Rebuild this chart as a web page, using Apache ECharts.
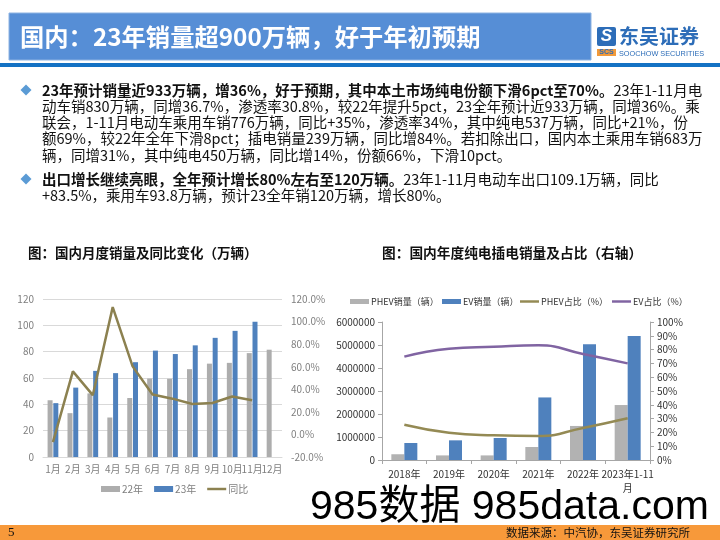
<!DOCTYPE html>
<html><head><meta charset="utf-8">
<script src="https://cdn.jsdelivr.net/npm/echarts@6/dist/echarts.min.js"></script>
<style>html,body{margin:0;padding:0;background:#fff}#c{width:720px;height:540px}</style>
</head><body><div id="c"></div>
<script>
// ---- Left chart data (万辆, %) ----
const months = ['1月','2月','3月','4月','5月','6月','7月','8月','9月','10月','11月','12月'];
const sales22 = [43.1, 33.3, 48.3, 30.0, 44.8, 59.6, 59.4, 66.7, 70.9, 71.5, 78.9, 81.5];
const sales23 = [40.9, 52.7, 65.4, 63.7, 72.0, 80.8, 78.2, 84.8, 90.5, 95.8, 102.8];
const yoy = [-6.8, 55.9, 34.8, 112.8, 60.3, 35.3, 31.7, 27.0, 27.8, 33.6, 30.3];
const leftAxisTicks = [0, 120, 20];
const rightAxisTicks = [-20, 120, 20];
// ---- Right chart data ----
const years = ['2018年','2019年','2020年','2021年','2022年','2023年1-11月'];
const phevSales = [250000, 200000, 200000, 565000, 1480000, 2390000];
const evSales = [740000, 855000, 957000, 2720000, 5030000, 5390000];
const phevShare = [25.6, 19.8, 17.9, 17.4, 23.2, 30.2];
const evShare = [74.9, 80.7, 82.1, 83.1, 76.8, 70.0];
// ---- Texts ----
const headerTitle = '国内：23年销量超900万辆，好于年初预期';
const leftTitle = '图：国内月度销量及同比变化（万辆）';
const rightTitle = '图：国内年度纯电插电销量及占比（右轴）';
const bulletLines = [
  [['b','23年预计销量近933万辆，增36%，好于预期，其中本土市场纯电份额下滑6pct至70%。'],['n','23年1-11月电']],
  [['n','动车销830万辆，同增36.7%，渗透率30.8%，较22年提升5pct，23全年预计近933万辆，同增36%。乘']],
  [['n','联会，1-11月电动车乘用车销776万辆，同比+35%，渗透率34%，其中纯电537万辆，同比+21%，份']],
  [['n','额69%，较22年全年下滑8pct；插电销量239万辆，同比增84%。若扣除出口，国内本土乘用车销683万']],
  [['n','辆，同增31%，其中纯电450万辆，同比增14%，份额66%，下滑10pct。']],
  [['b','出口增长继续亮眼，全年预计增长80%左右至120万辆。'],['n','23年1-11月电动车出口109.1万辆，同比']],
  [['n','+83.5%，乘用车93.8万辆，预计23全年销120万辆，增长80%。']]
];
const lineY = [90, 106.3, 122.6, 138.8, 155, 179, 195.3];
const bulletYs = [90, 179];
const sourceText = '数据来源：中汽协，东吴证券研究所';
const pageNo = '5';
const watermark = '985数据 985data.com';

const FONT = '"Noto Sans CJK SC", "Noto Sans", sans-serif';
const LINE_ICON = 'path://M0,0h20v2.6h-20z';
const chart = echarts.init(document.getElementById('c'), null, {renderer:'canvas'});

const graphics = [
  {type:'rect', shape:{x:9,y:13,width:582,height:47}, style:{fill:'#568ED6', stroke:'#8DB3E2', lineWidth:1}},
  {type:'text', x:20, y:37, style:{text:headerTitle, fill:'#fff', fontSize:24.3, fontWeight:'bold', fontFamily:FONT, verticalAlign:'middle'}},
  {type:'rect', shape:{x:0,y:63,width:720,height:4}, style:{fill:'#1472C4'}},
  // logo
  {type:'rect', shape:{x:597,y:27,width:19,height:19,r:2}, style:{fill:'#2D6DB8'}},
  {type:'text', x:606.5, y:36.5, style:{text:'S', fill:'#fff', fontSize:17, fontWeight:'bold', fontStyle:'italic', fontFamily:'"Liberation Sans", sans-serif', align:'center', verticalAlign:'middle'}},
  {type:'rect', shape:{x:597,y:49,width:19,height:7}, style:{fill:'#F29A3A'}},
  {type:'text', x:606.5, y:52.5, style:{text:'SCS', fill:'#2D6DB8', fontSize:7, fontWeight:'bold', fontFamily:'"Liberation Sans", sans-serif', align:'center', verticalAlign:'middle'}},
  {type:'text', x:619, y:36.5, style:{text:'东吴证券', fill:'#2D6DB8', fontSize:20, fontWeight:'bold', fontFamily:FONT, verticalAlign:'middle'}},
  {type:'text', x:619, y:53.5, style:{text:'SOOCHOW SECURITIES', fill:'#2D6DB8', fontSize:7.3, fontFamily:'"Liberation Sans Narrow","Liberation Sans", sans-serif', verticalAlign:'middle'}},
  // chart titles
  {type:'text', x:28, y:253, style:{text:leftTitle, fill:'#111', fontSize:13.5, fontWeight:'bold', fontFamily:FONT, verticalAlign:'middle'}},
  {type:'text', x:382, y:253, style:{text:rightTitle, fill:'#111', fontSize:13.7, fontWeight:'bold', fontFamily:FONT, verticalAlign:'middle'}},
  // footer
  {type:'rect', shape:{x:0,y:525,width:720,height:15}, style:{fill:'#F7993A'}},
  {type:'text', x:8, y:533, style:{text:pageNo, fill:'#111', fontSize:13, fontFamily:'"Liberation Serif", serif', verticalAlign:'middle'}},
  {type:'text', x:690, y:533, style:{text:sourceText, fill:'#111', fontSize:11.5, fontFamily:FONT, align:'right', verticalAlign:'middle'}},
  {type:'text', x:310, y:508, z:100, style:{text:watermark, fill:'#000', fontSize:41, fontFamily:'"Liberation Sans", "Noto Sans CJK SC", sans-serif', verticalAlign:'middle'}}
];
bulletYs.forEach(y => {
  graphics.push({type:'polygon', shape:{points:[[26,y-5.5],[31.5,y],[26,y+5.5],[20.5,y]]}, style:{fill:'#5B9BD5'}});
});
bulletLines.forEach((parts, i) => {
  graphics.push({type:'text', x:42, y:lineY[i], style:{
    text: parts.map(p => '{' + p[0] + '|' + p[1] + '}').join(''),
    verticalAlign:'middle',
    rich:{
      b:{fontSize:14.5, fontWeight:'bold', fill:'#111', fontFamily:FONT},
      n:{fontSize:14.5, fontWeight:'normal', fill:'#111', fontFamily:FONT}
    }
  }});
});

const grayLbl = {color:'#7F7F7F', fontSize:10, fontFamily:FONT};
const darkLbl = {color:'#333', fontSize:10, fontFamily:FONT};

function rLegend(left, name, icon) {
  return {left:left, top:297, padding:0, itemWidth:19, itemHeight:5, symbolKeepAspect:true,
    textStyle:{color:'#333', fontSize:9, fontFamily:FONT, padding:[0,0,0,-3]}, data:[{name:name, icon:icon}]};
}

chart.setOption({
  animation:false,
  textStyle:{fontFamily:FONT},
  graphic: graphics,
  legend:[
    {left:101, top:484, padding:0, itemWidth:19, itemHeight:6, itemGap:11, symbolKeepAspect:true, textStyle:{color:'#7F7F7F', fontSize:10, fontFamily:FONT, padding:[0,0,0,-3]},
     data:[{name:'22年', icon:'rect'},{name:'23年', icon:'rect'},{name:'同比', icon:LINE_ICON}]},
    rLegend(350, 'PHEV销量（辆）', 'rect'),
    rLegend(442, 'EV销量（辆）', 'rect'),
    rLegend(520, 'PHEV占比（%）', LINE_ICON),
    rLegend(612, 'EV占比（%）', LINE_ICON)
  ],
  grid:[
    {left:43, right:438, top:299, bottom:83},
    {left:382, right:70, top:322, bottom:80}
  ],
  xAxis:[
    {type:'category', gridIndex:0, data:months, axisLine:{lineStyle:{color:'#D9D9D9'}}, axisTick:{show:false}, axisLabel:Object.assign({margin:7, interval:0}, grayLbl)},
    {type:'category', gridIndex:1, data:years, axisLine:{lineStyle:{color:'#A6A6A6'}}, axisTick:{show:true, length:4, lineStyle:{color:'#A6A6A6'}},
     axisLabel:Object.assign({margin:7, lineHeight:14, interval:0, formatter:v => v.replace('1-11月','1-11\n月')}, darkLbl)}
  ],
  yAxis:[
    {type:'value', gridIndex:0, min:leftAxisTicks[0], max:leftAxisTicks[1], interval:leftAxisTicks[2], axisLine:{show:false}, axisTick:{show:false},
     splitLine:{lineStyle:{color:'#D9D9D9'}}, axisLabel:Object.assign({margin:9}, grayLbl)},
    {type:'value', gridIndex:0, position:'right', min:rightAxisTicks[0], max:rightAxisTicks[1], interval:rightAxisTicks[2], axisLine:{show:false}, axisTick:{show:false},
     splitLine:{show:false}, axisLabel:Object.assign({margin:9, formatter:v => v.toFixed(1)+'%'}, grayLbl)},
    {type:'value', gridIndex:1, min:0, max:6000000, interval:1000000, axisLine:{show:true, lineStyle:{color:'#A6A6A6'}}, axisTick:{show:true, length:4, lineStyle:{color:'#A6A6A6'}},
     splitLine:{show:false}, axisLabel:Object.assign({margin:7, formatter:v => String(v)}, darkLbl)},
    {type:'value', gridIndex:1, position:'right', min:0, max:100, interval:10, axisLine:{show:true, lineStyle:{color:'#A6A6A6'}}, axisTick:{show:true, length:4, lineStyle:{color:'#A6A6A6'}},
     splitLine:{show:false}, axisLabel:Object.assign({margin:7, formatter:'{value}%'}, darkLbl)}
  ],
  series:[
    {name:'22年', type:'bar', xAxisIndex:0, yAxisIndex:0, data:sales22, barWidth:5, barGap:'15%', itemStyle:{color:'#ADADAD'}},
    {name:'23年', type:'bar', xAxisIndex:0, yAxisIndex:0, data:sales23, barWidth:5, barGap:'15%', itemStyle:{color:'#4F81BD'}},
    {name:'同比', type:'line', xAxisIndex:0, yAxisIndex:1, data:yoy, symbol:'none', z:5, lineStyle:{color:'#8C8150', width:2.5}, itemStyle:{color:'#8C8150'}},
    {name:'PHEV销量（辆）', type:'bar', xAxisIndex:1, yAxisIndex:2, data:phevSales, barWidth:13, barGap:'0%', itemStyle:{color:'#B2B2B2'}},
    {name:'EV销量（辆）', type:'bar', xAxisIndex:1, yAxisIndex:2, data:evSales, barWidth:13, barGap:'0%', itemStyle:{color:'#4F81BD'}},
    {name:'PHEV占比（%）', type:'line', xAxisIndex:1, yAxisIndex:3, data:phevShare, smooth:true, symbol:'none', z:5, lineStyle:{color:'#948A54', width:2.5}, itemStyle:{color:'#948A54'}},
    {name:'EV占比（%）', type:'line', xAxisIndex:1, yAxisIndex:3, data:evShare, smooth:true, symbol:'none', z:5, lineStyle:{color:'#8064A2', width:2.5}, itemStyle:{color:'#8064A2'}}
  ]
});
</script></body></html>
